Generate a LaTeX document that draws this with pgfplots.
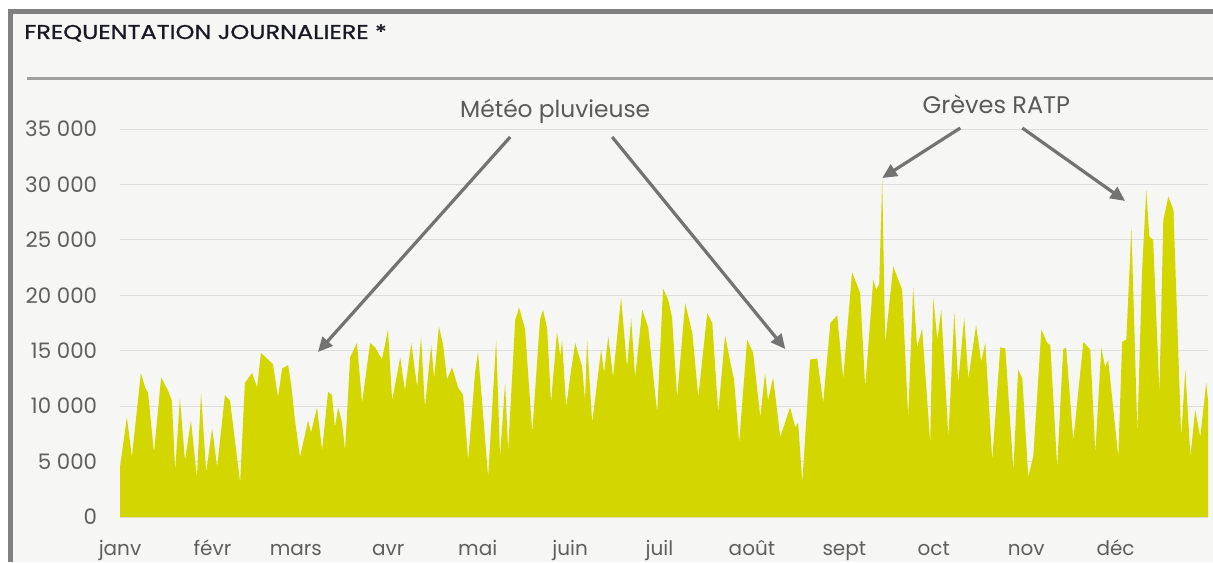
\documentclass[border=0pt]{standalone}
\usepackage{fontspec}
\setmainfont{Poppins}
\newfontfamily\titlefont{Poppins}[FakeBold=0.8]
\usepackage{pgfplots}
\pgfplotsset{compat=1.18}
\usetikzlibrary{arrows.meta}
\definecolor{fillc}{RGB}{212,214,0}
\definecolor{bgc}{RGB}{246,246,244}
\definecolor{borderc}{RGB}{128,128,128}
\definecolor{rulec}{RGB}{160,160,160}
\definecolor{gridc}{RGB}{222,222,222}
\definecolor{labc}{RGB}{95,95,95}
\definecolor{annc}{RGB}{90,90,90}
\definecolor{arrc}{RGB}{115,115,115}
\definecolor{titlec}{RGB}{25,25,35}
\begin{document}
\begin{tikzpicture}
\begin{scope}[x=0.75pt,y=0.75pt]
\fill[white] (0,0) rectangle (1213,562);
\fill[bgc] (10,0) rectangle (1213,550);
\fill[borderc] (8,0) rectangle (13,553);
\fill[borderc] (8,548) rectangle (1213,553);
\fill[rulec] (27,482) rectangle (1213,485.5);
\node[anchor=base west, text=titlec, inner sep=0] at (24,523) {\scalebox{1.2}[1]{\titlefont\fontsize{15}{17}\selectfont FREQUENTATION JOURNALIERE *}};
\end{scope}
\begin{axis}[at={(90pt,33.75pt)}, anchor=south west, scale only axis,
  width=816pt, height=291pt, xmin=0, xmax=365, ymin=0, ymax=35000,
  axis line style={draw=none}, major tick length=0pt, clip=false,
  scaled y ticks=false,
  ymajorgrids, grid style={gridc, line width=0.75pt},
  ytick={0,5000,10000,15000,20000,25000,30000,35000},
  yticklabels={0,5 000,10 000,15 000,20 000,25 000,30 000,35 000},
  xtick={0,31,59,90,120,151,181,212,243,273,304,334},
  xticklabels={janv,févr,mars,avr,mai,juin,juil,août,sept,oct,nov,déc},
  yticklabel style={anchor=east, inner sep=0pt, xshift=-17pt, text=labc, font=\fontsize{16}{18}\selectfont},
  xticklabel style={anchor=base, inner sep=0pt, yshift=-29pt, text=labc, font=\fontsize{15}{18}\selectfont},
]
\addplot[fill=fillc, draw=none] coordinates {
(0,4500)(2.3,9000)(4,5400)(7,13000)(8.4,11700)(9.4,11200)(11.4,5800)(13.8,12600)(16.1,11400)(17.4,10500)(18.5,4200)(20.1,10700)(21.8,5100)(23.8,8700)(25.8,3600)(27.2,11200)(28.9,4000)(30.9,8000)(32.6,4500)(35.2,11000)(36.9,10500)(40.3,3100)(41.9,12100)(44.3,13000)(46,11700)(47.3,14800)(49.7,14200)(51.3,13800)(53,10800)(54.4,13400)(56.4,13700)(57.4,12000)(58.7,8700)(60.4,5400)(63.1,8700)(64.1,7600)(66.1,9900)(67.8,6000)(69.8,11300)(71.1,11000)(72.1,8100)(73.2,9900)(74.5,8500)(75.5,6000)(77.2,14400)(79.5,15700)(81.2,10300)(83.9,15700)(85.6,15300)(87.9,14200)(89.9,16900)(91.3,10500)(94,14400)(95.6,11400)(97.7,15700)(99.7,11700)(101,16300)(102.3,9900)(104.4,15500)(105.4,12500)(107,17200)(108.4,15500)(109.7,12400)(111.4,13500)(113.4,11700)(115.1,11000)(116.8,5100)(119.1,13000)(120.1,14900)(121.5,10300)(123.5,3600)(126.2,16000)(127.5,5400)(129.2,12100)(130.2,6000)(132.6,17800)(133.9,18900)(135.9,16900)(138.3,7600)(140.9,17800)(141.9,18700)(143.3,17000)(144.6,10300)(146.6,16700)(147.7,14500)(148.3,16000)(149.7,9900)(151,12600)(152.7,15700)(155,13600)(156,10500)(156.7,16000)(158.4,8500)(161.4,15100)(162.4,13000)(163.8,16300)(165.4,12600)(168.1,19800)(170.1,13500)(171.5,17900)(172.8,12600)(175.2,18700)(177.2,17100)(180.2,9400)(182.2,20600)(183.9,19600)(185.2,18000)(186.9,10800)(189.6,19300)(192,16600)(194,10800)(197,18400)(198.7,17500)(200.7,9400)(203,16400)(204.7,14000)(206,12400)(207.7,6700)(210.4,16000)(212.4,14800)(214.8,9000)(216.4,13000)(217.4,10500)(219.1,12600)(221.5,7200)(224.8,9900)(226.5,8100)(227.5,8500)(228.9,3100)(231.5,14200)(233.9,14300)(235.9,10300)(238.3,17500)(240.6,18200)(242.6,12500)(245.6,22100)(248.3,20200)(250,11700)(252.7,21400)(253.7,20500)(254.7,21000)(255.7,30500)(256.7,15700)(259.4,22600)(262.4,20500)(264.4,9000)(266.1,20700)(267.4,15300)(269.1,17000)(271.8,6700)(272.8,19800)(274.2,16000)(275.5,18700)(277.9,7200)(279.9,18500)(281.2,12100)(283.2,18000)(284.6,12500)(287.2,17300)(288.9,14000)(290.3,15700)(292.6,5100)(295.3,15300)(297,15200)(299.7,4200)(301.3,13300)(302.7,12500)(304.7,3600)(306.4,5500)(309.1,16900)(311.1,15700)(312.1,15500)(314.4,4500)(316.4,15100)(317.4,15300)(319.8,6900)(323.2,15800)(325.5,15100)(327.2,5800)(329.2,15300)(330.5,13500)(331.5,14200)(334.9,5400)(336.2,15800)(337.6,16000)(339.3,26100)(341.3,7600)(342.9,22300)(344.3,29500)(345.3,25300)(346.6,25000)(348.7,11200)(350,26800)(351.7,28900)(353.4,27700)(356,7200)(357.4,13300)(359.1,5400)(360.7,9700)(362.4,7200)(364.4,12100)(365,10500)
} \closedcycle;
\draw[arrc, line width=2.4pt, -{Triangle[length=11pt,width=10pt]}] (axis cs:130.9,34280) -- (axis cs:66.4,14880);
\draw[arrc, line width=2.4pt, -{Triangle[length=11pt,width=10pt]}] (axis cs:165.1,34280) -- (axis cs:223.2,15150);
\draw[arrc, line width=2.4pt, -{Triangle[length=11pt,width=10pt]}] (axis cs:281.9,35090) -- (axis cs:255.7,30580);
\draw[arrc, line width=2.4pt, -{Triangle[length=11pt,width=10pt]}] (axis cs:302.7,35090) -- (axis cs:337.2,28510);
\node[text=annc, font=\fontsize{17.5}{20}\selectfont] at (axis cs:146,36620) {Météo pluvieuse};
\node[text=annc, font=\fontsize{18}{20}\selectfont] at (axis cs:294,37260) {Grèves RATP};
\end{axis}
\end{tikzpicture}
\end{document}
